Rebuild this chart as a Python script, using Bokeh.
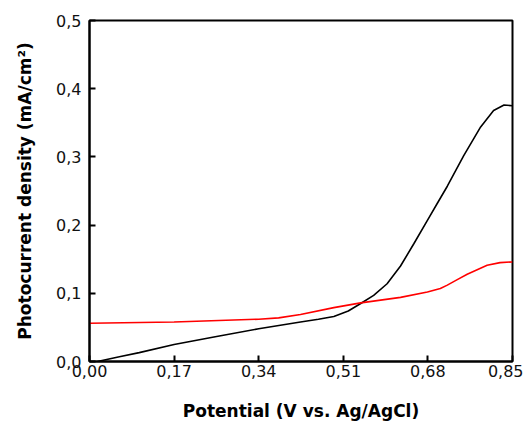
from bokeh.plotting import figure
from bokeh.models import FixedTicker, Range1d
from bokeh.embed import file_html
from bokeh.resources import INLINE

# Data
black_x = [0.016, 0.06, 0.10, 0.17, 0.25, 0.34, 0.424, 0.46, 0.491, 0.52, 0.545, 0.571, 0.598,
           0.625, 0.652, 0.679, 0.699, 0.719, 0.752, 0.786, 0.812, 0.833, 0.85]
black_y = [0.000, 0.007, 0.013, 0.025, 0.036, 0.048, 0.058, 0.062, 0.066, 0.074, 0.085, 0.097, 0.114,
           0.140, 0.173, 0.207, 0.232, 0.257, 0.302, 0.344, 0.368, 0.376, 0.375]

red_x = [0.0, 0.17, 0.34, 0.38, 0.424, 0.491, 0.545, 0.625, 0.679, 0.705, 0.719, 0.739,
         0.759, 0.799, 0.825, 0.85]
red_y = [0.056, 0.058, 0.062, 0.064, 0.069, 0.079, 0.086, 0.094, 0.102, 0.107, 0.112, 0.120,
         0.128, 0.141, 0.145, 0.146]

x_ticks = [0.0, 0.17, 0.34, 0.51, 0.68, 0.85]
x_tick_labels = ["0,00", "0,17", "0,34", "0,51", "0,68", "0,85"]
y_ticks = [0.0, 0.1, 0.2, 0.3, 0.4, 0.5]
y_tick_labels = ["0,0", "0,1", "0,2", "0,3", "0,4", "0,5"]

FONT = "DejaVu Sans"

p = figure(width=523, height=423, output_backend="svg", toolbar_location=None,
           x_range=Range1d(0, 0.85), y_range=Range1d(0, 0.5),
           min_border_left=89, min_border_right=11, min_border_top=20, min_border_bottom=62)

p.line(black_x, black_y, line_color="black", line_width=1.6)
p.line(red_x, red_y, line_color="#ff0000", line_width=1.6)

p.grid.visible = False
p.outline_line_color = "black"
p.outline_line_width = 2
p.outline_line_alpha = 1

for ax in (p.xaxis[0], p.yaxis[0]):
    ax.axis_line_width = 2
    ax.axis_line_color = "black"
    ax.major_tick_in = 6
    ax.major_tick_out = 0
    ax.major_tick_line_width = 2
    ax.major_tick_line_color = "black"
    ax.minor_tick_line_color = None
    ax.major_label_text_font = FONT
    ax.major_label_text_font_size = "16px"
    ax.major_label_text_color = "#111111"
    ax.axis_label_text_font = FONT
    ax.axis_label_text_font_style = "bold"
    ax.axis_label_text_font_size = "17px"
    ax.axis_label_text_color = "black"

p.xaxis.ticker = FixedTicker(ticks=x_ticks)
p.xaxis.major_label_overrides = dict(zip(x_ticks, x_tick_labels))
p.yaxis.ticker = FixedTicker(ticks=y_ticks)
p.yaxis.major_label_overrides = dict(zip(y_ticks, y_tick_labels))

p.xaxis.axis_label = "Potential (V vs. Ag/AgCl)"
p.yaxis.axis_label = "Photocurrent density (mA/cm\u00b2)"
p.xaxis.major_label_standoff = 3
p.xaxis.axis_label_standoff = 21
p.yaxis.major_label_standoff = 8
p.yaxis.axis_label_standoff = 18

open("out.html", "w").write(file_html(p, INLINE))
